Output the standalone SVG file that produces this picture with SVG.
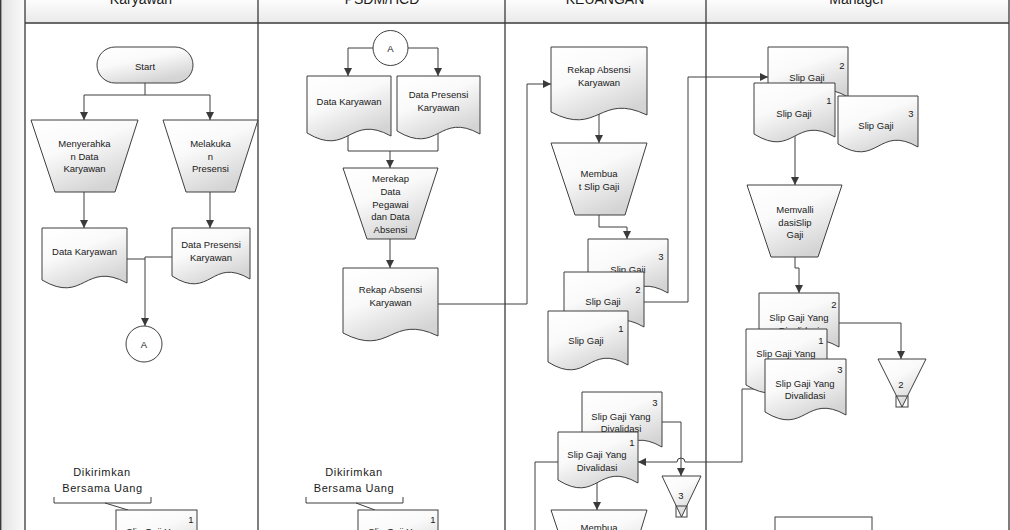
<svg xmlns="http://www.w3.org/2000/svg" width="1010" height="530" viewBox="0 0 1010 530">
<defs>
<linearGradient id="fillg" x1="0" y1="0" x2="0.55" y2="1">
<stop offset="0" stop-color="#ffffff"/>
<stop offset="0.45" stop-color="#fafafa"/>
<stop offset="1" stop-color="#d4d4d4"/>
</linearGradient>
<linearGradient id="headg" x1="0" y1="0" x2="0" y2="1">
<stop offset="0" stop-color="#fdfdfd"/>
<stop offset="1" stop-color="#e9e9e9"/>
</linearGradient>
<linearGradient id="leftg" x1="0" y1="0" x2="1" y2="0">
<stop offset="0" stop-color="#e2e2e2"/>
<stop offset="1" stop-color="#fbfbfb"/>
</linearGradient>
<marker id="arr" markerUnits="userSpaceOnUse" markerWidth="9" markerHeight="9" refX="8" refY="4" orient="auto">
<path d="M0 0 L8 4 L0 8 Z" fill="#3a3a3a"/>
</marker>
</defs>
<style>
.sh{fill:url(#fillg);stroke:#3f3f3f;stroke-width:1}
.pl{fill:#ffffff;stroke:#3f3f3f;stroke-width:1}
.ln{fill:none;stroke:#3f3f3f;stroke-width:1}
.ar{fill:none;stroke:#3f3f3f;stroke-width:1;marker-end:url(#arr)}
.lane{fill:none;stroke:#3a3a3a;stroke-width:1.3}
text{font-family:"Liberation Sans",Arial,sans-serif;font-size:9.5px;fill:#1a1a1a;text-anchor:middle}
.tt{font-size:14px}
.an{font-size:11px;letter-spacing:0.6px}
</style>

<g id="pool">
<rect x="0" y="0" width="25" height="530" fill="url(#leftg)"/>
<line x1="0.7" y1="0" x2="0.7" y2="530" stroke="#3a3a3a" stroke-width="1.4"/>
<rect x="25" y="0" width="984" height="23" fill="url(#headg)"/>
<line class="lane" x1="25" y1="23" x2="1009" y2="23"/>
<line class="lane" x1="25" y1="0" x2="25" y2="530"/>
<line class="lane" x1="258" y1="0" x2="258" y2="530"/>
<line class="lane" x1="505" y1="0" x2="505" y2="530"/>
<line class="lane" x1="706" y1="0" x2="706" y2="530"/>
<line class="lane" x1="1009" y1="0" x2="1009" y2="530"/>
<text class="tt" x="141" y="4">Karyawan</text>
<text class="tt" x="382" y="4">PSDM/HCD</text>
<text class="tt" x="605" y="4">KEUANGAN</text>
<text class="tt" x="857" y="4">Manager</text>
</g>

<g id="connectors">
<path class="ar" d="M145 83 V95 H84 V120"/>
<path class="ar" d="M145 95 H210 V120"/>
<path class="ar" d="M84 192 V228"/>
<path class="ar" d="M210 192 V228"/>
<path class="ln" d="M127 259 H145"/>
<path class="ar" d="M172 257 H145 V326"/>
<path class="ar" d="M373 48 H348 V76"/>
<path class="ar" d="M408 48 H438 V76"/>
<path class="ln" d="M348 136 V151 H438 V133"/>
<path class="ar" d="M390 151 V168"/>
<path class="ar" d="M390 239 V268"/>
<path class="ar" d="M438 304 H527 V84 H551"/>
<path class="ar" d="M599 112 V143"/>
<path class="ar" d="M599 215 V227 H627 V239"/>
<path class="ar" d="M644 302 H688 V77 H768"/>
<path class="ar" d="M795 134 V185"/>
<path class="ar" d="M795 257 V268 H799 V293"/>
<path class="ar" d="M839 323 H901 V359"/>
<path class="ar" d="M770 389 H742 V462 H685 A4 4 0 0 0 677 462 H638"/>
<path class="ar" d="M662 422 H681 V476"/>
<path class="ln" d="M558 462 H535 V530"/>
<path class="ar" d="M597 483 V510"/>
<path class="ln" d="M105 503 L128 510"/>
<path class="ln" d="M356 503 L375 510"/>
</g>

<g id="start">
<rect class="sh" x="97" y="47" width="96" height="36" rx="18" ry="18"/>
<text x="145" y="69.5">Start</text>
</g>
<g id="menyerahkan">
<path class="sh" d="M31 120 H138 L115 192 H55 Z"/>
<text x="84.5" y="146.5">Menyerahka</text>
<text x="84.5" y="159.5">n Data</text>
<text x="84.5" y="171.5">Karyawan</text>
</g>
<g id="melakukan">
<path class="sh" d="M163 120 H258 L235 192 H186 Z"/>
<text x="210.5" y="146.5">Melakuka</text>
<text x="210.5" y="159.5">n</text>
<text x="210.5" y="171.5">Presensi</text>
</g>
<g id="k-data-karyawan">
<path class="sh" d="M42 228 H127 V283 C84.5 260 84.5 305 42 280 Z"/>
<text x="84.5" y="255">Data Karyawan</text>
</g>
<g id="k-data-presensi">
<path class="sh" d="M172 228 H250 V279 C211 256 211 301 172 276 Z"/>
<text x="211" y="247.5">Data Presensi</text>
<text x="211" y="260.5">Karyawan</text>
</g>
<g id="k-connector-a">
<circle class="pl" cx="144" cy="344" r="18"/>
<text x="144" y="347.5">A</text>
</g>
<g id="k-annotation">
<path class="ln" d="M54 497 V503 H151 V497"/>
<text class="an" x="102" y="476">Dikirimkan</text>
<text class="an" x="102.5" y="492">Bersama Uang</text>
</g>
<g id="k-slip">
<rect class="sh" x="116" y="510" width="81" height="60"/>
<text x="191" y="522.5">1</text>
<text x="156" y="535">Slip Gaji Yang</text>
</g>

<g id="p-connector-a">
<circle class="pl" cx="390.5" cy="48" r="17.5"/>
<text x="390.5" y="51.5">A</text>
</g>
<g id="p-data-karyawan">
<path class="sh" d="M307 76 H391 V136 C349 113 349 158 307 133 Z"/>
<text x="349" y="104.5">Data Karyawan</text>
</g>
<g id="p-data-presensi">
<path class="sh" d="M397 76 H480 V134 C438.5 111 438.5 156 397 131 Z"/>
<text x="438.5" y="97.5">Data Presensi</text>
<text x="438.5" y="110.5">Karyawan</text>
</g>
<g id="merekap">
<path class="sh" d="M343 168 H438 L415 239 H367 Z"/>
<text x="390.5" y="181.5">Merekap</text>
<text x="390.5" y="194.5">Data</text>
<text x="390.5" y="207.5">Pegawai</text>
<text x="390.5" y="219.5">dan Data</text>
<text x="390.5" y="232.5">Absensi</text>
</g>
<g id="p-rekap">
<path class="sh" d="M343 268 H438 V336 C390.5 313 390.5 358 343 333 Z"/>
<text x="390.5" y="292.5">Rekap Absensi</text>
<text x="390.5" y="305.5">Karyawan</text>
</g>
<g id="p-annotation">
<path class="ln" d="M306 497 V503 H403 V497"/>
<text class="an" x="354" y="476">Dikirimkan</text>
<text class="an" x="354" y="492">Bersama Uang</text>
</g>
<g id="p-slip">
<rect class="sh" x="358" y="510" width="80" height="60"/>
<text x="433" y="522.5">1</text>
<text x="398" y="535">Slip Gaji Yang</text>
</g>

<g id="ke-rekap">
<path class="sh" d="M551 47 H647 V115 C599 92 599 137 551 112 Z"/>
<text x="599" y="72.5">Rekap Absensi</text>
<text x="599" y="85.5">Karyawan</text>
</g>
<g id="membuat-slip">
<path class="sh" d="M551 143 H647 L625 215 H575 Z"/>
<text x="599" y="176.5">Membua</text>
<text x="599" y="189.5">t Slip Gaji</text>
</g>
<g id="ke-slip-3">
<path class="sh" d="M588 239 H668 V293 C628 270 628 315 588 290 Z"/>
<text x="661" y="260">3</text>
<text x="628" y="272.5">Slip Gaji</text>
</g>
<g id="ke-slip-2">
<path class="sh" d="M564 272 H644 V327 C604 304 604 349 564 324 Z"/>
<text x="638" y="293">2</text>
<text x="603" y="305">Slip Gaji</text>
</g>
<g id="ke-slip-1">
<path class="sh" d="M548 311 H628 V365 C588 342 588 387 548 362 Z"/>
<text x="621" y="331.5">1</text>
<text x="586" y="344">Slip Gaji</text>
</g>
<g id="ke-valid-3">
<path class="sh" d="M582 392 H662 V447 C622 424 622 469 582 444 Z"/>
<text x="655" y="405.5">3</text>
<text x="621" y="419.5">Slip Gaji Yang</text>
<text x="621" y="431.5">Divalidasi</text>
</g>
<g id="ke-valid-1">
<path class="sh" d="M558 432 H638 V483 C598 460 598 505 558 480 Z"/>
<text x="632" y="445.5">1</text>
<text x="597" y="457.5">Slip Gaji Yang</text>
<text x="597" y="470.5">Divalidasi</text>
</g>
<g id="ke-archive-3">
<path class="sh" d="M662 476 H701 L681.5 517 Z"/>
<rect class="ln" x="676" y="506" width="11" height="11"/>
<text x="681" y="498.5">3</text>
</g>
<g id="membuat-2">
<path class="sh" d="M551 510 H647 L625 582 H575 Z"/>
<text x="599" y="531">Membua</text>
</g>

<g id="m-slip-2">
<path class="sh" d="M768 47 H848 V97 C808 74 808 119 768 94 Z"/>
<text x="842" y="68.5">2</text>
<text x="807" y="80.5">Slip Gaji</text>
</g>
<g id="m-slip-1">
<path class="sh" d="M754 83 H835 V137 C794.5 114 794.5 159 754 134 Z"/>
<text x="829" y="103.5">1</text>
<text x="794" y="116.5">Slip Gaji</text>
</g>
<g id="m-slip-3">
<path class="sh" d="M838 96 H918 V147 C878 124 878 169 838 144 Z"/>
<text x="911" y="116.5">3</text>
<text x="876" y="128.5">Slip Gaji</text>
</g>
<g id="memvalidasi">
<path class="sh" d="M747 185 H842 L818 257 H771 Z"/>
<text x="795" y="212.5">Memvalli</text>
<text x="795" y="225.5">dasiSlip</text>
<text x="795" y="237.5">Gaji</text>
</g>
<g id="m-valid-2">
<path class="sh" d="M759 293 H839 V347 C799 324 799 369 759 344 Z"/>
<text x="834" y="307.5">2</text>
<text x="799" y="320.5">Slip Gaji Yang</text>
<text x="799" y="333.5">Divalidasi</text>
</g>
<g id="m-valid-1">
<path class="sh" d="M746 329 H827 V388 C786.5 365 786.5 410 746 385 Z"/>
<text x="821" y="343.5">1</text>
<text x="786" y="356.5">Slip Gaji Yang</text>
<text x="786" y="369.5">Divalidasi</text>
</g>
<g id="m-valid-3">
<path class="sh" d="M765 359 H846 V415 C805.5 392 805.5 437 765 412 Z"/>
<text x="840" y="372.5">3</text>
<text x="805" y="386.5">Slip Gaji Yang</text>
<text x="805" y="398.5">Divalidasi</text>
</g>
<g id="m-archive-2">
<path class="sh" d="M878 359 H926 L902 407 Z"/>
<rect class="ln" x="896" y="396" width="12" height="11"/>
<text x="901" y="387.5">2</text>
</g>
<g id="m-box">
<rect class="pl" x="775" y="517" width="97" height="40"/>
</g>
</svg>
